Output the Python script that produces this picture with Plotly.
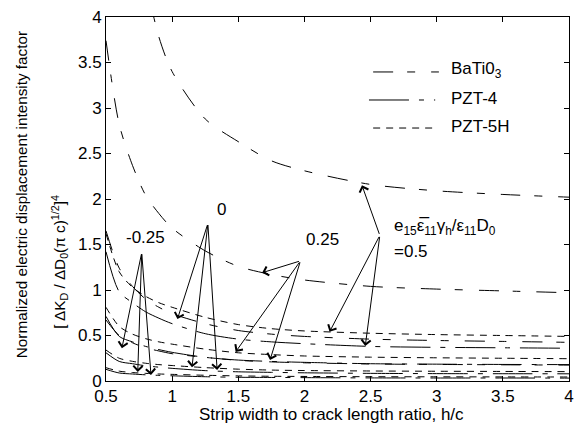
import plotly.graph_objects as go

# ---------------- data ----------------
h_c = [0.5, 0.6, 0.7, 0.8, 0.9, 1.0, 1.25, 1.5, 1.75, 2.0, 2.5, 3.0, 3.5, 4.0]

# BaTiO3 (long dash - short dash)
batio3_m025 = [0.67, 0.50, 0.42, 0.365, 0.33, 0.30, 0.26, 0.227, 0.21, 0.20, 0.187, 0.182, 0.178, 0.175]
batio3_0 = [1.65, 1.24, 1.04, 0.90, 0.81, 0.74, 0.63, 0.555, 0.515, 0.49, 0.46, 0.445, 0.435, 0.425]
batio3_025 = [3.74, 2.82, 2.37, 2.04, 1.84, 1.68, 1.43, 1.26, 1.17, 1.11, 1.04, 1.01, 0.99, 0.97]
batio3_05 = [None, None, None, 4.40, 3.78, 3.40, 2.88, 2.63, 2.42, 2.31, 2.16, 2.09, 2.05, 2.02]

# PZT-4 (long solid - short dash)
pzt4_m025 = [0.128, 0.088, 0.077, 0.068, 0.062, 0.057, 0.047, 0.041, 0.039, 0.037, 0.034, 0.033, 0.033, 0.032]
pzt4_0 = [0.31, 0.215, 0.19, 0.167, 0.152, 0.139, 0.114, 0.101, 0.095, 0.09, 0.084, 0.081, 0.08, 0.079]
pzt4_025 = [0.71, 0.49, 0.43, 0.38, 0.345, 0.315, 0.26, 0.23, 0.215, 0.205, 0.19, 0.185, 0.182, 0.18]
pzt4_05 = [1.42, 0.98, 0.86, 0.76, 0.69, 0.63, 0.52, 0.46, 0.43, 0.41, 0.38, 0.37, 0.365, 0.36]

# PZT-5H (short dashes)
pzt5h_m025 = [0.146, 0.108, 0.093, 0.084, 0.077, 0.073, 0.063, 0.056, 0.052, 0.05, 0.047, 0.046, 0.045, 0.044]
pzt5h_0 = [0.34, 0.25, 0.216, 0.195, 0.18, 0.17, 0.147, 0.13, 0.12, 0.115, 0.11, 0.107, 0.105, 0.103]
pzt5h_025 = [0.81, 0.60, 0.515, 0.465, 0.43, 0.405, 0.35, 0.31, 0.29, 0.275, 0.262, 0.255, 0.25, 0.245]
pzt5h_05 = [1.62, 1.20, 1.03, 0.93, 0.86, 0.81, 0.70, 0.62, 0.575, 0.55, 0.525, 0.51, 0.50, 0.49]

x_ticks = [0.5, 1, 1.5, 2, 2.5, 3, 3.5, 4]
x_tick_labels = ["0.5", "1", "1.5", "2", "2.5", "3", "3.5", "4"]
y_ticks = [0, 0.5, 1, 1.5, 2, 2.5, 3, 3.5, 4]
y_tick_labels = ["0", "0.5", "1", "1.5", "2", "2.5", "3", "3.5", "4"]

materials = ["BaTi0<sub>3</sub>", "PZT-4", "PZT-5H"]

# annotation groups: label, label position, arrow tail, arrow heads
groups = [
    ("-0.25", (0.795, 1.58), (0.77, 1.41), [(0.62, 0.36), (0.74, 0.10), (0.84, 0.066)]),
    ("0", (1.37, 1.89), (1.27, 1.73), [(1.04, 0.68), (1.15, 0.15), (1.34, 0.12)]),
    ("0.25", (2.14, 1.56), (1.97, 1.32), [(1.68, 1.19), (1.48, 0.32), (1.74, 0.23)]),
    ("", (2.67, 1.60), (2.57, 1.60), [(2.435, 2.15), (2.19, 0.54), (2.46, 0.385)]),
]

# ---------------- styles ----------------
FONT = "Liberation Sans, Arial, Helvetica, sans-serif"
FS = 17
dash_styles = {
    "BaTi0<sub>3</sub>": "20px,14px,8px,16px",
    "PZT-4": "40px,10px,5px,10px",
    "PZT-5H": "7px,6px",
}
series = {
    "BaTi0<sub>3</sub>": [batio3_m025, batio3_0, batio3_025, batio3_05],
    "PZT-4": [pzt4_m025, pzt4_0, pzt4_025, pzt4_05],
    "PZT-5H": [pzt5h_m025, pzt5h_0, pzt5h_025, pzt5h_05],
}

fig = go.Figure()
for mat in materials:
    for ld, ys in zip(["-0.25", "0", "0.25", "0.5"], series[mat]):
        fig.add_trace(go.Scatter(
            x=h_c, y=ys, mode="lines", name=f"{mat} {ld}",
            line=dict(color="black", width=1, dash=dash_styles[mat], shape="spline", smoothing=0.8),
            showlegend=False, hoverinfo="skip",
        ))

annotations = []
shapes = []
for label, lpos, tail, heads in groups:
    if label:
        annotations.append(dict(x=lpos[0], y=lpos[1], xref="x", yref="y", text=label,
                                showarrow=False, font=dict(family=FONT, size=FS, color="black")))
    for hx, hy in heads:
        annotations.append(dict(x=hx, y=hy, xref="x", yref="y", ax=tail[0], ay=tail[1],
                                axref="x", ayref="y", text="", showarrow=True,
                                arrowhead=4, arrowsize=1.8, arrowwidth=1, arrowcolor="black",
                                standoff=0, startstandoff=0))

# formula label
annotations.append(dict(x=2.66, y=1.69, xref="x", yref="y", xanchor="left", yanchor="middle",
                        text="e<sub>15</sub>ε̅<sub>11</sub>γ<sub>h</sub>/ε<sub>11</sub>D<sub>0</sub>",
                        showarrow=False, font=dict(family=FONT, size=FS, color="black")))
annotations.append(dict(x=2.66, y=1.42, xref="x", yref="y", xanchor="left", yanchor="middle",
                        text="=0.5", showarrow=False, font=dict(family=FONT, size=FS, color="black")))

# legend key (drawn)
legend_rows = [
    ("BaTi0<sub>3</sub>", 0.577, 0.719, 0.849, 0.855),
    ("PZT-4", 0.568, 0.711, 0.772, 0.777),
    ("PZT-5H", 0.577, 0.717, 0.695, 0.698),
]
for name, x0, x1, yl, yt in legend_rows:
    shapes.append(dict(type="line", xref="paper", yref="paper", x0=x0, x1=x1, y0=yl, y1=yl,
                       line=dict(color="black", width=1, dash=dash_styles[name])))
    annotations.append(dict(x=0.74, y=yt, xref="paper", yref="paper", xanchor="left", yanchor="middle",
                            text=name, showarrow=False, font=dict(family=FONT, size=FS, color="black")))

# axis titles
annotations.append(dict(x=0.488, y=-0.093, xref="paper", yref="paper",
                        xanchor="center", yanchor="middle",
                        text="Strip width to crack length ratio, h/c",
                        showarrow=False, font=dict(family=FONT, size=FS, color="black")))
annotations.append(dict(x=-0.181, y=0.511, xref="paper", yref="paper", textangle=-90,
                        xanchor="center", yanchor="middle",
                        text="Normalized electric displacement intensity factor",
                        showarrow=False, font=dict(family=FONT, size=15.3, color="black")))
annotations.append(dict(x=-0.10, y=0.327, xref="paper", yref="paper", textangle=-90,
                        xanchor="center", yanchor="middle",
                        text="[ ΔK<sub>D</sub> / ΔD<sub>0</sub>(π c)<sup>1/2</sup>]<sup>4</sup>",
                        showarrow=False, font=dict(family=FONT, size=15.3, color="black")))

fig.update_layout(
    width=574, height=425,
    margin=dict(l=106, r=5, t=17, b=44, autoexpand=False),
    paper_bgcolor="white", plot_bgcolor="white",
    font=dict(family=FONT, size=FS, color="black"),
    annotations=annotations, shapes=shapes,
)
fig.update_xaxes(range=[0.5, 4], tickvals=x_ticks, ticktext=x_tick_labels,
                 ticks="inside", ticklen=5, tickcolor="black", showline=True, linecolor="black",
                 linewidth=1, mirror="ticks", showgrid=False, zeroline=False, automargin=False,
                 tickfont=dict(family=FONT, size=FS))
fig.update_yaxes(range=[0, 4], tickvals=y_ticks, ticktext=y_tick_labels,
                 ticks="inside", ticklen=5, tickcolor="black", showline=True, linecolor="black",
                 linewidth=1, mirror="ticks", showgrid=False, zeroline=False, automargin=False,
                 tickfont=dict(family=FONT, size=FS))

fig.write_html("out.html", config={"displayModeBar": False},
               post_script="document.body.style.margin='0px';document.body.style.overflow='hidden';")
